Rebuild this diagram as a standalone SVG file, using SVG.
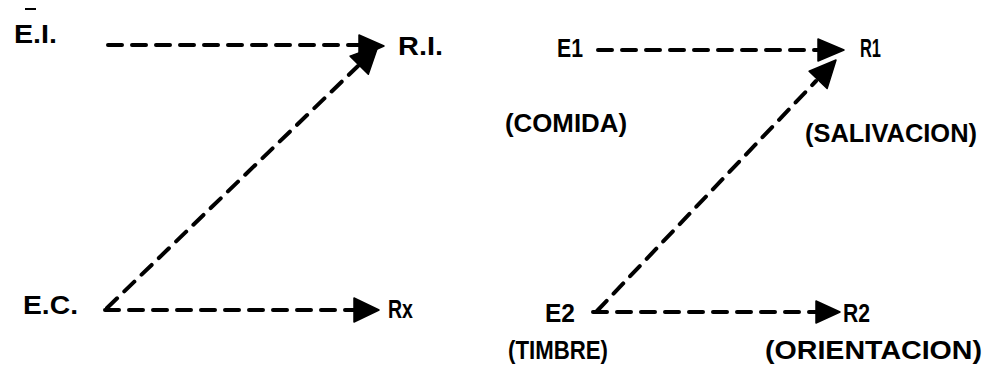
<svg xmlns="http://www.w3.org/2000/svg" width="985" height="367" viewBox="0 0 985 367">
<style>
.t{font-family:"Liberation Sans",Arial,sans-serif;font-weight:bold;font-size:25px;fill:#000}
.d{stroke:#000;stroke-width:4;stroke-dasharray:14 10;stroke-linecap:round;fill:none}
.h{fill:#000;stroke:#000;stroke-width:1.5;stroke-linejoin:round}
</style>
<rect width="985" height="367" fill="#fff"/>
<g id="EI"><line x1="25" y1="9" x2="36" y2="9" stroke="#000" stroke-width="2"/><text class="t" x="14" y="43" textLength="43" lengthAdjust="spacingAndGlyphs">E.I.</text></g>
<g id="RI"><text class="t" x="398" y="55" textLength="45" lengthAdjust="spacingAndGlyphs">R.I.</text></g>
<g id="EC"><text class="t" x="23" y="314" textLength="55" lengthAdjust="spacingAndGlyphs">E.C.</text></g>
<g id="Rx"><text class="t" x="388" y="318" textLength="25" lengthAdjust="spacingAndGlyphs">Rx</text></g>
<g id="E1"><text class="t" x="557" y="57" textLength="26" lengthAdjust="spacingAndGlyphs">E1</text>
<text class="t" x="505" y="132" textLength="122" lengthAdjust="spacingAndGlyphs">(COMIDA)</text></g>
<g id="R1"><text class="t" x="860" y="57" textLength="21" lengthAdjust="spacingAndGlyphs">R1</text>
<text class="t" x="805" y="142" textLength="172" lengthAdjust="spacingAndGlyphs">(SALIVACION)</text></g>
<g id="E2"><text class="t" x="545" y="322" textLength="30" lengthAdjust="spacingAndGlyphs">E2</text>
<text class="t" x="508" y="359" textLength="100" lengthAdjust="spacingAndGlyphs">(TIMBRE)</text></g>
<g id="R2"><text class="t" x="843" y="322" textLength="27" lengthAdjust="spacingAndGlyphs">R2</text>
<text class="t" x="765" y="359" textLength="217" lengthAdjust="spacingAndGlyphs">(ORIENTACION)</text></g>
<g id="connectors">
<line class="d" x1="108" y1="45" x2="361" y2="45"/>
<polygon class="h" points="384,46 359,35 359,57"/>
<line class="d" x1="107" y1="308" x2="358" y2="66"/>
<polygon class="h" points="378,46 368.3,74.3 350.1,56.1"/>
<line class="d" x1="105" y1="310" x2="356" y2="310"/>
<polygon class="h" points="379,310 354,298 354,322"/>
<line class="d" x1="598" y1="50" x2="819" y2="50"/>
<polygon class="h" points="844,50 818,39 818,61"/>
<line class="d" x1="597" y1="311" x2="816" y2="81"/>
<polygon class="h" points="836,60 827.1,88.5 809.1,71.3"/>
<line class="d" x1="593" y1="312" x2="817" y2="312"/>
<polygon class="h" points="840,312 816,301 816,323"/>
</g>
</svg>
